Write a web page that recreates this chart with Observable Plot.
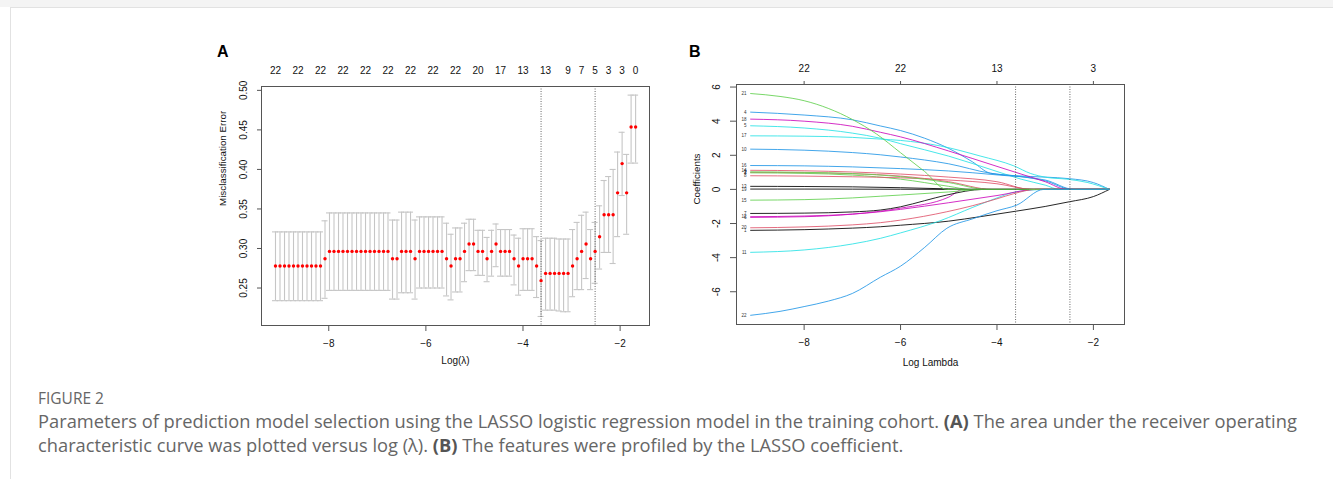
<!DOCTYPE html>
<html><head><meta charset="utf-8">
<script src="https://cdn.jsdelivr.net/npm/d3@7"></script>
<script src="https://cdn.jsdelivr.net/npm/@observablehq/plot@0.6"></script>
<style>
html,body{margin:0;padding:0;background:#fff;}
body{width:1333px;height:479px;position:relative;overflow:hidden;font-family:"Liberation Sans",Arial,sans-serif;}
#topband{position:absolute;left:0;top:0;width:1333px;height:7px;background:#f4f4f4;}
#frame{position:absolute;left:10px;top:7px;width:1400px;height:520px;border-top:1px solid #e2e2e2;border-left:1px solid #e2e2e2;}
#pa{position:absolute;left:200px;top:40px;}
#pb{position:absolute;left:680px;top:40px;}
.plab{position:absolute;font-family:"Liberation Sans",Arial,sans-serif;font-weight:bold;font-size:16px;line-height:16px;color:#000;}
#fig{position:absolute;left:38px;top:388px;font-family:"Open Sans",sans-serif;font-size:15.5px;line-height:20px;color:#666;white-space:nowrap;}
#cap{position:absolute;left:38px;top:409px;font-family:"Open Sans",sans-serif;font-size:18.3px;line-height:24px;color:#666;white-space:nowrap;}
#cap b{font-weight:700;color:#555;}
</style>
</head><body>
<div id="topband"></div>
<div id="frame"></div>
<div class="plab" style="left:217px;top:44px;">A</div>
<div class="plab" style="left:689px;top:44px;">B</div>
<div id="pa"></div>
<div id="pb"></div>
<div id="fig">FIGURE 2</div>
<div id="cap">Parameters of prediction model selection using the LASSO logistic regression model in the training cohort. <b>(A)</b> The area under the receiver operating<br>characteristic curve was plotted versus log (λ). <b>(B)</b> The features were profiled by the LASSO coefficient.</div>
<script>
// ---------- Panel A data ----------
const logLambda = [-9.097,-9.004,-8.911,-8.819,-8.726,-8.633,-8.541,-8.448,-8.355,-8.263,-8.170,-8.077,-7.985,-7.892,-7.799,-7.707,-7.614,-7.521,-7.428,-7.336,-7.243,-7.150,-7.058,-6.965,-6.872,-6.780,-6.687,-6.594,-6.501,-6.409,-6.316,-6.223,-6.131,-6.038,-5.945,-5.853,-5.760,-5.667,-5.574,-5.482,-5.389,-5.296,-5.204,-5.111,-5.018,-4.926,-4.833,-4.740,-4.647,-4.555,-4.462,-4.369,-4.277,-4.184,-4.091,-3.999,-3.906,-3.813,-3.720,-3.628,-3.535,-3.442,-3.350,-3.257,-3.164,-3.072,-2.979,-2.886,-2.793,-2.701,-2.608,-2.515,-2.423,-2.330,-2.237,-2.144,-2.052,-1.959,-1.866,-1.774,-1.681];
const cvMean = [0.2778,0.2778,0.2778,0.2778,0.2778,0.2778,0.2778,0.2778,0.2778,0.2778,0.2778,0.2870,0.2963,0.2963,0.2963,0.2963,0.2963,0.2963,0.2963,0.2963,0.2963,0.2963,0.2963,0.2963,0.2963,0.2963,0.2870,0.2870,0.2963,0.2963,0.2963,0.2870,0.2963,0.2963,0.2963,0.2963,0.2963,0.2963,0.2870,0.2778,0.2870,0.2870,0.2963,0.3056,0.3056,0.2963,0.2963,0.2870,0.2963,0.3056,0.2963,0.2963,0.2963,0.2870,0.2778,0.2870,0.2870,0.2870,0.2778,0.2593,0.2685,0.2685,0.2685,0.2685,0.2685,0.2685,0.2778,0.2870,0.2963,0.3056,0.2870,0.2963,0.3148,0.3426,0.3426,0.3426,0.3704,0.4074,0.3704,0.4537,0.4537];
const cvUpper = [0.321,0.321,0.321,0.321,0.321,0.321,0.321,0.321,0.321,0.321,0.321,0.335,0.345,0.345,0.345,0.345,0.345,0.345,0.345,0.345,0.345,0.345,0.345,0.345,0.345,0.345,0.336,0.336,0.346,0.346,0.346,0.336,0.340,0.340,0.340,0.340,0.340,0.340,0.332,0.318,0.326,0.326,0.332,0.337,0.337,0.323,0.323,0.314,0.323,0.331,0.324,0.324,0.324,0.317,0.313,0.325,0.325,0.325,0.315,0.310,0.313,0.313,0.313,0.312,0.312,0.312,0.324,0.333,0.342,0.346,0.324,0.333,0.354,0.386,0.391,0.400,0.422,0.447,0.419,0.494,0.494];
const cvLower = [0.234,0.234,0.234,0.234,0.234,0.234,0.234,0.234,0.234,0.234,0.234,0.237,0.247,0.247,0.247,0.247,0.247,0.247,0.247,0.247,0.247,0.247,0.247,0.247,0.247,0.247,0.236,0.236,0.244,0.244,0.244,0.236,0.250,0.250,0.250,0.250,0.250,0.250,0.240,0.235,0.245,0.245,0.258,0.272,0.272,0.266,0.266,0.258,0.265,0.277,0.265,0.265,0.265,0.254,0.241,0.247,0.247,0.247,0.238,0.214,0.222,0.222,0.222,0.221,0.220,0.220,0.239,0.248,0.248,0.262,0.248,0.256,0.274,0.295,0.295,0.281,0.315,0.367,0.318,0.408,0.408];
const topAIndex = [0,5,10,15,20,25,30,35,40,45,50,55,60,65,68,71,74,77,80];
const topALabels = ["22","22","22","22","22","22","22","22","22","20","17","13","13","9","7","5","3","3","0"];
const lambdaLinesA = [-3.628, -2.515];
const yTicksA = [0.25,0.30,0.35,0.40,0.45,0.50];
const xTicksA = [-8,-6,-4,-2];

// ---------- Panel B data ----------
const varNames = ["1","2","3","4","5","6","7","8","9","10","11","12","13","14","15","16","17","18","19","20","21","22"];
const path1  = [[-9.11,-2.40],[-8,-2.36],[-7,-2.27],[-6.42,-2.19],[-6,-2.10],[-5,-1.86],[-4.35,-1.60],[-3.59,-1.27],[-3,-1.00],[-2.49,-0.72],[-2,-0.42],[-1.667,0]];
const path2  = [[-9.11,1.00],[-8,0.98],[-7,0.92],[-6,0.78],[-5,0.45],[-4.1,0],[-1.667,0]];
const path3  = [[-9.11,0.97],[-8,0.94],[-7,0.84],[-6,0.60],[-5,0.18],[-4.55,0],[-1.667,0]];
const path4  = [[-9.11,4.53],[-8,4.36],[-7,4.08],[-6.42,3.72],[-6,3.45],[-5.5,3.00],[-5,2.40],[-4.5,1.60],[-4.14,0.95],[-3.6,0.80],[-3,0.72],[-2.5,0.63],[-2,0.40],[-1.667,0]];
const path5  = [[-9.11,3.73],[-8,3.60],[-7,3.30],[-6.42,3.00],[-6,2.68],[-5,1.95],[-4,1.05],[-3.5,0.60],[-3,0.25],[-2.7,0],[-1.667,0]];
const path6  = [[-9.11,-1.64],[-8,-1.60],[-7,-1.45],[-6,-1.10],[-5,-0.45],[-4.7,0],[-1.667,0]];
const path7  = [[-9.11,-1.41],[-8,-1.39],[-7,-1.32],[-6.42,-1.21],[-6,-1.02],[-5.5,-0.66],[-5.04,-0.33],[-4.28,0],[-1.667,0]];
const path8  = [[-9.11,0.80],[-8,0.78],[-7,0.74],[-6,0.68],[-5,0.55],[-4,0.33],[-3.25,0],[-1.667,0]];
const path9  = [[-9.11,1.03],[-8,1.00],[-7,0.93],[-6,0.75],[-5,0.40],[-4.2,0],[-1.667,0]];
const path10 = [[-9.11,2.36],[-8,2.30],[-7,2.16],[-6.42,2.03],[-6,1.90],[-5,1.50],[-4.14,0.95],[-3.5,0.75],[-3,0.50],[-2.45,0],[-1.667,0]];
const path11 = [[-9.11,-3.69],[-8,-3.55],[-7,-3.20],[-6.42,-2.87],[-6,-2.55],[-5.18,-1.84],[-4.5,-1.05],[-4,-0.50],[-3.6,-0.14],[-2.95,0],[-1.667,0]];
const path12 = [[-9.11,-1.60],[-8,-1.56],[-7,-1.45],[-6.42,-1.31],[-6,-1.17],[-5,-0.78],[-4,-0.36],[-3.17,0],[-1.667,0]];
const path13 = [[-9.11,0.18],[-8,0.17],[-7,0.15],[-6,0.10],[-5,0.03],[-4.6,0],[-1.667,0]];
const path14 = [[-9.11,1.12],[-8,1.09],[-7,1.02],[-6,0.90],[-5,0.72],[-4,0.45],[-3.3,0],[-1.667,0]];
const path15 = [[-9.11,-0.63],[-8,-0.60],[-7,-0.50],[-6.42,-0.40],[-6,-0.33],[-5,-0.15],[-4.28,0],[-1.667,0]];
const path16 = [[-9.11,1.40],[-8,1.38],[-7,1.32],[-6,1.22],[-5,1.08],[-4,0.85],[-3,0.55],[-2.4,0],[-1.667,0]];
const path17 = [[-9.11,3.14],[-8,3.12],[-7,3.05],[-6.42,2.95],[-6,2.87],[-5.18,2.55],[-4.35,1.96],[-3.65,1.38],[-3.3,0.93],[-2.96,0.70],[-2.55,0.60],[-2.13,0.41],[-1.667,0]];
const path18 = [[-9.11,4.12],[-8,4.00],[-7,3.70],[-6.42,3.35],[-6,3.08],[-5,2.25],[-4,1.35],[-3.5,0.90],[-3,0.45],[-2.55,0],[-1.667,0]];
const path19 = [[-9.11,0.02],[-8,0.02],[-7,0.015],[-6,0.01],[-5,0],[-1.667,0]];
const path20 = [[-9.11,-2.25],[-8,-2.20],[-7,-2.08],[-6.42,-1.95],[-6,-1.80],[-5.04,-1.31],[-4.5,-0.95],[-4,-0.55],[-3.65,-0.25],[-3.2,0],[-1.667,0]];
const path21 = [[-9.11,5.62],[-8.5,5.45],[-8,5.20],[-7.5,4.75],[-7,4.10],[-6.5,3.25],[-6,2.15],[-5.5,1.05],[-5.04,0],[-1.667,0]];
const path22 = [[-9.11,-7.38],[-8.5,-7.15],[-8,-6.87],[-7.5,-6.55],[-7,-6.10],[-6.42,-5.15],[-6,-4.50],[-5.5,-3.40],[-5.04,-2.28],[-4.5,-1.72],[-4,-1.25],[-3.59,-0.92],[-3.03,0],[-1.667,0]];
const paths = [path1,path2,path3,path4,path5,path6,path7,path8,path9,path10,path11,path12,path13,path14,path15,path16,path17,path18,path19,path20,path21,path22];
const topBTicks = [-8,-6,-4,-2];
const topBLabels = ["22","22","13","3"];
const lambdaLinesB = [-3.614, -2.487];
const yTicksB = [-6,-4,-2,0,2,4,6];
const xTicksB = [-8,-6,-4,-2];
const rPalette = ["#000000","#DF536B","#61D04F","#2297E6","#28E2E5","#CD0BBC"];

// ---------- build panel A ----------
const cvRows = logLambda.map((x, i) => ({x, m: cvMean[i], hi: cvUpper[i], lo: cvLower[i]}));
const capW = 0.062;
const font = "Liberation Sans, Arial, Helvetica, sans-serif";
const axisCol = "#555";
const barCol = "#c6c6c6";

const plotA = Plot.plot({
  width: 460, height: 340,
  marginLeft: 61, marginRight: 11, marginTop: 46, marginBottom: 55,
  style: {fontFamily: font, fontSize: "10px", color: "#111", background: "transparent"},
  x: {domain: [-9.385, -1.395]},
  y: {domain: [0.2026, 0.5049]},
  marks: [
    Plot.ruleX(cvRows, {x: "x", y1: "lo", y2: "hi", stroke: barCol, strokeWidth: 1.1}),
    Plot.ruleY(cvRows, {y: "hi", x1: d => d.x - capW, x2: d => d.x + capW, stroke: barCol, strokeWidth: 1.1}),
    Plot.ruleY(cvRows, {y: "lo", x1: d => d.x - capW, x2: d => d.x + capW, stroke: barCol, strokeWidth: 1.1}),
    Plot.ruleX(lambdaLinesA, {stroke: "#555", strokeDasharray: "1,1.5", strokeWidth: 0.9}),
    Plot.dot(cvRows, {x: "x", y: "m", r: 1.7, fill: "#ff0000", stroke: "none"}),
    Plot.frame({stroke: axisCol, strokeWidth: 1}),
    Plot.axisX({anchor: "bottom", ticks: xTicksA, tickSize: 6, tickPadding: 8, label: null, stroke: axisCol}),
    Plot.axisX({anchor: "top", ticks: topAIndex.map(i => logLambda[i]), tickSize: 0, tickPadding: 13, tickFormat: (d, i) => topALabels[i], label: null}),
    Plot.axisY({anchor: "left", ticks: yTicksA, tickSize: 4, tickPadding: 11, tickRotate: -90, tickFormat: d3.format(".2f"), label: null, stroke: axisCol}),
    Plot.text(["Misclassification Error"], {frameAnchor: "left", dx: -39, rotate: -90, text: d => d, fontSize: 9.8}),
    Plot.text(["Log(\u03bb)"], {frameAnchor: "bottom", dy: 38, text: d => d, fontSize: 10})
  ]
});
document.getElementById("pa").appendChild(plotA);

// ---------- build panel B ----------
const coefRows = [];
paths.forEach((p, k) => p.forEach(([x, y]) => coefRows.push({x, y, v: varNames[k], c: rPalette[k % 6]})));
const labelRows = paths.map((p, k) => ({x: p[0][0], y: p[0][1], v: varNames[k]}));

const plotB = Plot.plot({
  width: 460, height: 340,
  marginLeft: 56, marginRight: 16, marginTop: 44, marginBottom: 56,
  style: {fontFamily: font, fontSize: "10px", color: "#111", background: "transparent"},
  x: {domain: [-9.403, -1.355]},
  y: {domain: [-7.92, 6.15]},
  marks: [
    Plot.line(coefRows, {x: "x", y: "y", z: "v", stroke: "c", strokeWidth: 1, strokeOpacity: 0.85, curve: "monotone-x"}),
    Plot.text(labelRows, {x: "x", y: "y", text: "v", textAnchor: "end", dx: -4, fontSize: 4.5, fill: "#333"}),
    Plot.ruleX(lambdaLinesB, {stroke: "#555", strokeDasharray: "1,1.5", strokeWidth: 0.9}),
    Plot.frame({stroke: axisCol, strokeWidth: 1}),
    Plot.axisX({anchor: "bottom", ticks: xTicksB, tickSize: 6, tickPadding: 8, label: null, stroke: axisCol}),
    Plot.axisX({anchor: "top", ticks: topBTicks, tickSize: 4, tickPadding: 9, tickFormat: (d, i) => topBLabels[i], label: null, stroke: axisCol}),
    Plot.axisY({anchor: "left", ticks: yTicksB, tickSize: 6, tickPadding: 11, tickRotate: -90, tickFormat: d => String(d), label: null, stroke: axisCol}),
    Plot.text(["Coefficients"], {frameAnchor: "left", dx: -40, rotate: -90, text: d => d, fontSize: 9.8}),
    Plot.text(["Log Lambda"], {frameAnchor: "bottom", dy: 41, text: d => d, fontSize: 10})
  ]
});
document.getElementById("pb").appendChild(plotB);
</script>
</body></html>
